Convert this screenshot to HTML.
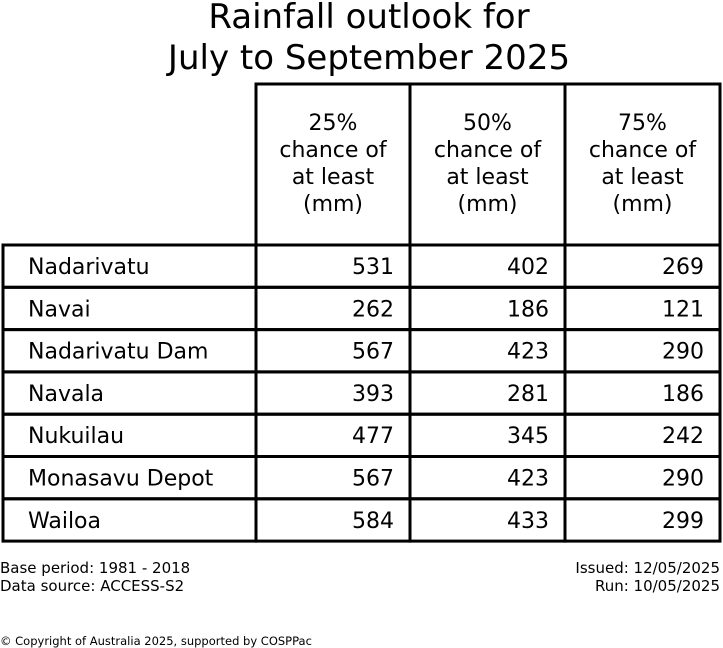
<!DOCTYPE html>
<html><head><meta charset="utf-8"><style>
html,body{margin:0;padding:0;background:#fff;}
svg{display:block;font-family:"DejaVu Sans","Liberation Sans",sans-serif;}
</style></head><body>
<svg id="s" width="723" height="648" viewBox="0 0 723 648">
<text x="369" y="28" font-size="34" text-anchor="middle">Rainfall outlook for</text>
<text x="369" y="69" font-size="34" text-anchor="middle">July to September 2025</text>
<g id="tbl"></g>
<text x="0" y="573" font-size="15">Base period: 1981 - 2018</text>
<text x="0" y="591" font-size="15">Data source: ACCESS-S2</text>
<text x="720" y="573" font-size="15" text-anchor="end">Issued: 12/05/2025</text>
<text x="720" y="591" font-size="15" text-anchor="end">Run: 10/05/2025</text>
<text x="0" y="645" font-size="11.5">© Copyright of Australia 2025, supported by COSPPac</text>
</svg>
<script>
const stations=["Nadarivatu","Navai","Nadarivatu Dam","Navala","Nukuilau","Monasavu Depot","Wailoa"];
const p25=[531,262,567,393,477,567,584];
const p50=[402,186,423,281,345,423,433];
const p75=[269,121,290,186,242,290,299];
const headers=["25%","50%","75%"];
const NS="http://www.w3.org/2000/svg";
const g=document.getElementById('tbl');
const colX=[3,256,410,565,720];
const headTop=84, headBot=245, rowH=42.3;
function mk(t,a,txt){const e=document.createElementNS(NS,t);for(const k in a)e.setAttribute(k,a[k]);if(txt!==undefined)e.textContent=txt;g.appendChild(e);return e;}
// header boxes
for(let c=0;c<3;c++){
  const r=mk('rect',{x:colX[c+1],y:headTop,width:colX[c+2]-colX[c+1],height:headBot-headTop,fill:'none',stroke:'#000','stroke-width':3});
  
  
  const cx=(colX[c+1]+colX[c+2])/2;
  const lines=[headers[c]+"","chance of","at least","(mm)"];
  lines.forEach((l,i)=>{const t=mk('text',{x:cx,y:130+i*27,'font-size':22,'text-anchor':'middle'},l);
    
    });
}
const vals=[p25,p50,p75];
stations.forEach((s,i)=>{
  const y0=headBot+i*rowH;
  for(let c=0;c<4;c++){
    const r=mk('rect',{x:colX[c],y:y0,width:colX[c+1]-colX[c],height:rowH,fill:'none',stroke:'#000','stroke-width':3});
    
    
  }
  const t=mk('text',{x:28,y:y0+29,'font-size':22},s);
  
  
  for(let c=0;c<3;c++){
    const v=mk('text',{x:colX[c+2]-16,y:y0+29,'font-size':22,'text-anchor':'end'},String(vals[c][i]));
    
    
  }
});
</script>
</body></html>
